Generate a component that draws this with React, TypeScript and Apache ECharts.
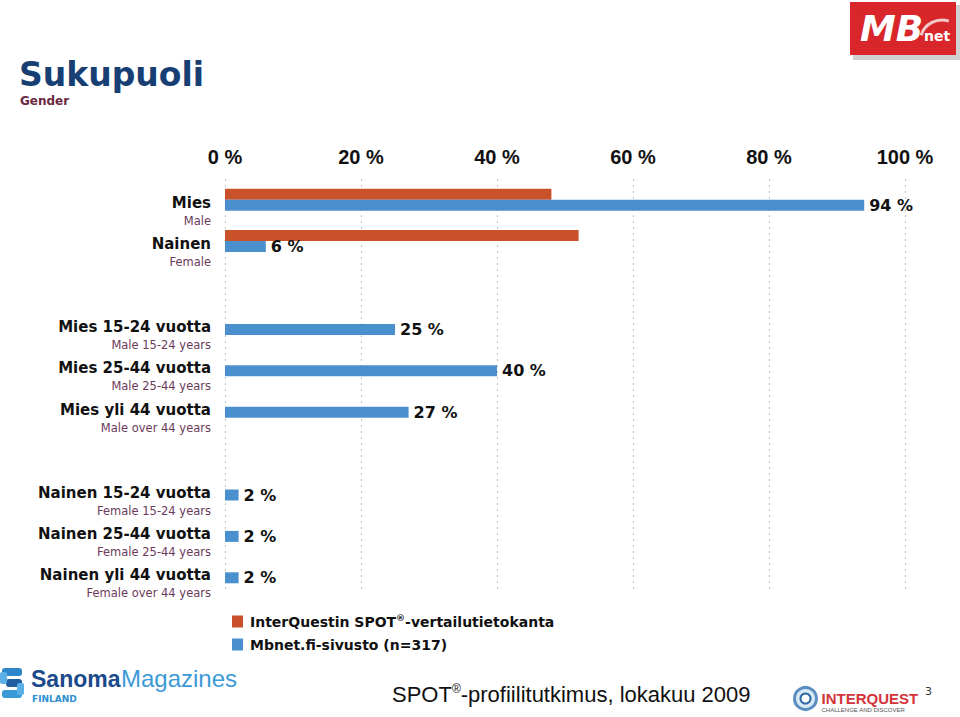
import React, { useEffect, useRef } from "react";
import * as echarts from "echarts";

const categories = [
  "Mies",
  "Nainen",
  "",
  "Mies 15-24 vuotta",
  "Mies 25-44 vuotta",
  "Mies yli 44 vuotta",
  "",
  "Nainen 15-24 vuotta",
  "Nainen 25-44 vuotta",
  "Nainen yli 44 vuotta",
];
const subLabels = [
  "Male",
  "Female",
  "",
  "Male 15-24 years",
  "Male 25-44 years",
  "Male over 44 years",
  "",
  "Female 15-24 years",
  "Female 25-44 years",
  "Female over 44 years",
];
const spotValues = [48, 52, null, null, null, null, null, null, null, null];
const mbnetValues = [94, 6, null, 25, 40, 27, null, 2, 2, 2];
const seriesNames = ["InterQuestin SPOT®-vertailutietokanta", "Mbnet.fi-sivusto (n=317)"];

const ORANGE = "#c9522a";
const BLUE = "#4a90cf";

export default function App() {
  const ref = useRef<HTMLDivElement>(null);
  useEffect(() => {
    if (!ref.current) return;
    const chart = echarts.init(ref.current, null, { renderer: "svg" });
    const option: any = {
      animation: false,
      backgroundColor: "#ffffff",
      grid: { left: 225, right: 55, top: 179, bottom: 124, containLabel: false },
      xAxis: {
        type: "value",
        position: "top",
        min: 0,
        max: 100,
        interval: 20,
        axisLine: { show: false },
        axisTick: { show: false },
        axisLabel: {
          margin: 12,
          formatter: (v: number) => `${v} %`,
          fontFamily: "Liberation Sans",
          fontWeight: "bold",
          fontSize: 20,
          color: "#111",
        },
        splitLine: { show: true, lineStyle: { color: "#c4c4c4", type: [2, 4], width: 1 } },
      },
      yAxis: {
        type: "category",
        inverse: true,
        data: categories,
        axisLine: { show: false },
        axisTick: { show: false },
        axisLabel: {
          margin: 14,
          padding: [24, 0, 0, 0],
          formatter: (value: string, index: number) =>
            value ? `{b|${value}}\n{s|${subLabels[index]}}` : "",
          rich: {
            b: {
              fontFamily: "DejaVu Sans",
              fontWeight: "bold",
              fontSize: 15,
              color: "#111",
              lineHeight: 18,
              align: "right",
            },
            s: {
              fontFamily: "DejaVu Sans",
              fontSize: 11.5,
              color: "#6b3a5a",
              lineHeight: 18,
              align: "right",
            },
          },
        },
      },
      legend: {
        orient: "vertical",
        left: 227,
        top: 608,
        icon: "rect",
        itemWidth: 11,
        itemHeight: 12,
        itemGap: 9,
        data: seriesNames,
        formatter: (name: string) => name.replace("®", "{sup|®}"),
        textStyle: {
          fontFamily: "DejaVu Sans",
          fontWeight: "bold",
          fontSize: 14,
          color: "#111",
          padding: [0, 0, 0, 2],
          rich: {
            sup: { fontFamily: "DejaVu Sans", fontSize: 9, fontWeight: "bold", color: "#111", padding: [0, 0, 8, 0] },
          },
        },
      },
      series: [
        {
          name: seriesNames[0],
          type: "bar",
          data: spotValues,
          barWidth: 11,
          barGap: "0%",
          itemStyle: { color: ORANGE },
        },
        {
          name: seriesNames[1],
          type: "bar",
          data: mbnetValues,
          barWidth: 11,
          barGap: "0%",
          itemStyle: { color: BLUE },
          label: {
            show: true,
            position: "right",
            distance: 5,
            formatter: (p: any) => `${p.value} %`,
            fontFamily: "DejaVu Sans",
            fontWeight: "bold",
            fontSize: 16,
            color: "#111",
          },
        },
      ],
      graphic: [
        {
          type: "text",
          left: 19,
          top: 58,
          style: { text: "Sukupuoli", fontFamily: "DejaVu Sans", fontWeight: "bold", fontSize: 33, fill: "#173f74" },
        },
        {
          type: "text",
          left: 20,
          top: 95,
          style: { text: "Gender", fontFamily: "DejaVu Sans", fontWeight: "bold", fontSize: 12, fill: "#6a2940" },
        },
        // MBnet logo
        {
          type: "group",
          left: 850,
          top: 2,
          children: [
            { type: "rect", shape: { x: 3, y: 3, width: 108, height: 55 }, style: { fill: "#d0d0d0" } },
            { type: "rect", shape: { x: 0, y: 0, width: 106, height: 53 }, style: { fill: "#d8262b" } },
            {
              type: "text",
              x: 10,
              y: 8,
              style: { text: "MB", fontFamily: "DejaVu Sans", fontWeight: "bold", fontStyle: "italic", fontSize: 36, fill: "#ffffff" },
            },
            {
              type: "text",
              x: 74,
              y: 27,
              style: { text: "net", fontFamily: "DejaVu Sans", fontWeight: "bold", fontSize: 14, fill: "#ffffff" },
            },
            {
              type: "arc",
              shape: { cx: 92, cy: 40, r: 22, startAngle: Math.PI * 1.1, endAngle: Math.PI * 1.6 },
              style: { stroke: "#f2c8c8", lineWidth: 3, fill: "none" },
            },
          ],
        },
        // Sanoma Magazines logo
        {
          type: "group",
          left: 0,
          top: 666,
          children: [
            { type: "rect", shape: { x: 2, y: 2, width: 20, height: 8, r: 3 }, style: { fill: "#2f86c8" } },
            { type: "rect", shape: { x: 6, y: 13, width: 16, height: 8, r: 3 }, style: { fill: "#1f5fa0" } },
            { type: "rect", shape: { x: 2, y: 24, width: 20, height: 8, r: 3 }, style: { fill: "#3a9ad8" } },
            { type: "rect", shape: { x: 0, y: 6, width: 7, height: 12, r: 2 }, style: { fill: "#5ab0e6" } },
            { type: "rect", shape: { x: 17, y: 17, width: 7, height: 12, r: 2 }, style: { fill: "#5ab0e6" } },
            {
              type: "text",
              x: 31,
              y: 1,
              style: { text: "Sanoma", fontFamily: "Liberation Sans", fontWeight: "bold", fontSize: 23, fill: "#1c4a8a" },
            },
            {
              type: "text",
              x: 121,
              y: 0,
              style: { text: "Magazines", fontFamily: "Liberation Sans", fontSize: 24, fill: "#3b9ad6" },
            },
            {
              type: "text",
              x: 32,
              y: 28,
              style: { text: "FINLAND", fontFamily: "DejaVu Sans", fontWeight: "bold", fontSize: 9, fill: "#2a8fd0" },
            },
          ],
        },
        // footer
        {
          type: "text",
          left: 392,
          top: 683,
          style: {
            text: "SPOT{sup|®}-profiilitutkimus, lokakuu 2009",
            fontFamily: "Liberation Sans",
            fontSize: 22,
            fill: "#111",
            rich: { sup: { fontFamily: "Liberation Sans", fontSize: 12, fill: "#111", padding: [0, 0, 10, 0] } },
          },
        },
        // Interquest logo
        {
          type: "group",
          left: 793,
          top: 686,
          children: [
            { type: "circle", shape: { cx: 12, cy: 12, r: 11 }, style: { fill: "#d8e8f4", stroke: "#5a8fc0", lineWidth: 3 } },
            { type: "circle", shape: { cx: 12, cy: 12, r: 5 }, style: { fill: "#ffffff", stroke: "#2d6aa5", lineWidth: 2 } },
            {
              type: "text",
              x: 28,
              y: 4,
              style: { text: "INTERQUEST", fontFamily: "Liberation Sans", fontWeight: "bold", fontSize: 15, fill: "#d3343a" },
            },
            {
              type: "text",
              x: 28,
              y: 20,
              style: { text: "CHALLENGE AND DISCOVER", fontFamily: "Liberation Sans", fontSize: 6, fill: "#555" },
            },
          ],
        },
        {
          type: "text",
          left: 925,
          top: 686,
          style: { text: "3", fontFamily: "DejaVu Sans", fontSize: 11, fill: "#333" },
        },
      ],
    };
    chart.setOption(option);
    return () => chart.dispose();
  }, []);
  return (
    <div
      ref={ref}
      style={{ position: "fixed", left: 0, top: 0, width: 960, height: 717, background: "#fff" }}
    />
  );
}
